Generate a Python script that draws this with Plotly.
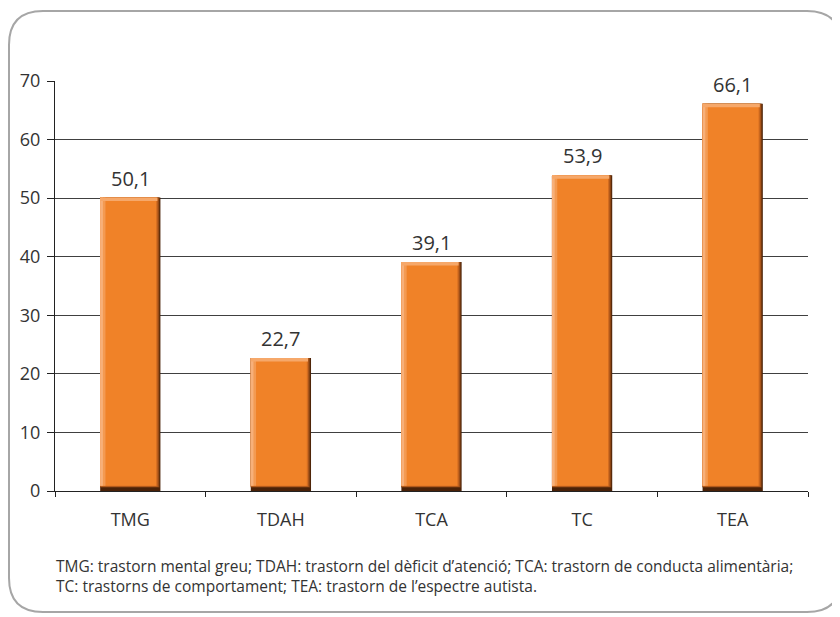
import plotly.graph_objects as go

categories = ["TMG", "TDAH", "TCA", "TC", "TEA"]
values = [50.1, 22.7, 39.1, 53.9, 66.1]
y_ticks = [0, 10, 20, 30, 40, 50, 60, 70]
footnote_lines = [
    "TMG: trastorn mental greu; TDAH: trastorn del dèficit d’atenció; TCA: trastorn de conducta alimentària;",
    "TC: trastorns de comportament; TEA: trastorn de l’espectre autista.",
]

FONT = "Open Sans"
W, H = 840, 617
OFF = 8  # page offset of the figure in the browser
L, T = 55 - OFF, 81 - OFF
pw, ph = 753, 410
R, B = W - L - pw, H - T - ph

fig = go.Figure()

# dark shadow base
fig.add_trace(go.Bar(x=categories, y=values, width=0.40, offset=-0.20,
                     marker=dict(color="#4a2208", line_width=0), hoverinfo="skip"))
# right darker gradient
fig.add_trace(go.Bar(x=categories, y=[v - 0.6 for v in values], base=0.6, width=0.394, offset=-0.20,
                     marker=dict(color="#7a3c10", line_width=0), hoverinfo="skip"))
fig.add_trace(go.Bar(x=categories, y=[v - 0.7 for v in values], base=0.7, width=0.388, offset=-0.20,
                     marker=dict(color="#a8541a", line_width=0), hoverinfo="skip"))
fig.add_trace(go.Bar(x=categories, y=[v - 0.8 for v in values], base=0.8, width=0.38, offset=-0.20,
                     marker=dict(color="#d26c20", line_width=0), hoverinfo="skip"))
# main orange
fig.add_trace(go.Bar(x=categories, y=[v - 0.9 for v in values], base=0.9, width=0.372, offset=-0.20,
                     marker=dict(color="#F08228", line_width=0), hoverinfo="skip"))
# left light strips
fig.add_trace(go.Bar(x=categories, y=[v - 0.9 for v in values], base=0.9, width=0.035, offset=-0.20,
                     marker=dict(color="#F39A52", line_width=0), hoverinfo="skip"))
fig.add_trace(go.Bar(x=categories, y=[v - 0.9 for v in values], base=0.9, width=0.018, offset=-0.20,
                     marker=dict(color="#F7B07A", line_width=0), hoverinfo="skip"))
# top highlight
fig.add_trace(go.Bar(x=categories, y=[0.6 for v in values], base=[v - 0.6 for v in values], width=0.38, offset=-0.20,
                     marker=dict(color="#F6A86A", line_width=0), hoverinfo="skip"))

# value labels
for c, v in zip(categories, values):
    fig.add_annotation(x=c, y=v, text=f"{v:.1f}".replace(".", ","), showarrow=False,
                       xanchor="center", yanchor="bottom", yshift=4,
                       font=dict(size=20, color="#333333", family=FONT))

# rounded frame (page pixel -> paper)
def px(x):
    return (x - OFF - L) / pw

def py(y):
    return (H - B - (y - OFF)) / ph

x0, x1, y0, y1, r = 9, 841, 11, 612, 34
path = (f"M {px(x0)},{py(y0 + r)} "
        f"Q {px(x0)},{py(y0)} {px(x0 + r)},{py(y0)} "
        f"L {px(x1 - r)},{py(y0)} "
        f"Q {px(x1)},{py(y0)} {px(x1)},{py(y0 + r)} "
        f"L {px(x1)},{py(y1 - r)} "
        f"Q {px(x1)},{py(y1)} {px(x1 - r)},{py(y1)} "
        f"L {px(x0 + r)},{py(y1)} "
        f"Q {px(x0)},{py(y1)} {px(x0)},{py(y1 - r)} Z")
fig.add_shape(type="path", path=path, xref="paper", yref="paper",
              line=dict(color="#a6a6a6", width=2), layer="below")

fig.add_annotation(text="<br>".join(footnote_lines), xref="paper", yref="paper", x=px(54), y=py(576),
                   xanchor="left", yanchor="middle", align="left", showarrow=False,
                   font=dict(size=15.5, color="#333333", family=FONT))

fig.update_layout(
    width=W, height=H,
    margin=dict(l=L, r=R, t=T, b=B),
    barmode="overlay",
    showlegend=False,
    plot_bgcolor="white", paper_bgcolor="white",
    font=dict(family=FONT, color="#333333"),
    xaxis=dict(showline=True, linecolor="#222222", linewidth=1,
               ticks="outside", tickson="boundaries", ticklen=5, tickcolor="#222222",
               ticklabelstandoff=12,
               tickfont=dict(size=18, color="#333333"), showgrid=False, zeroline=False,
               fixedrange=True),
    yaxis=dict(range=[0, 70], tickvals=y_ticks, showline=True, linecolor="#222222", linewidth=1,
               ticks="outside", ticklen=7, tickcolor="#222222", ticklabelstandoff=3,
               showgrid=True, gridcolor="#404040", gridwidth=1, zeroline=False,
               tickfont=dict(size=18, color="#333333"), fixedrange=True),
)

fig.write_html("out.html")
